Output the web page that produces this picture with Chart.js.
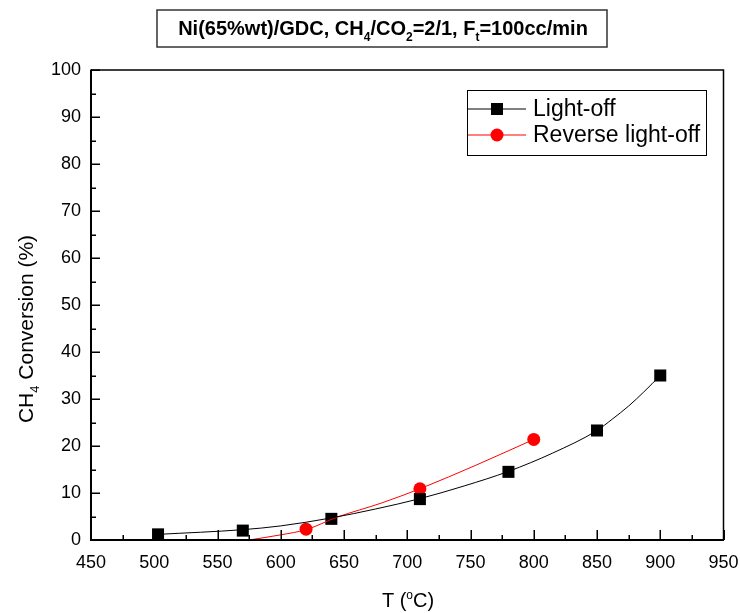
<!DOCTYPE html>
<html>
<head>
<meta charset="utf-8">
<script src="https://cdn.jsdelivr.net/npm/chart.js@4/dist/chart.umd.min.js"></script>
<style>
    body { margin: 0; background: #fff; }
    #wrap { width: 740px; height: 613px; }
</style>
</head>
<body>
<div id="wrap"><canvas id="chart" width="740" height="613"></canvas></div>
<script>
// measured points
const lightT = [503, 570, 640, 710, 780, 850, 900];
const lightX = [1.2, 2.0, 4.5, 8.7, 14.5, 23.3, 35.0];
const reverseT = [620, 710, 800];
const reverseX = [2.3, 10.9, 21.4];

// fitted curves
const lightFitT = [503, 570, 600, 640, 675, 710, 745, 780, 815, 850, 862, 875, 887, 900];
const lightFitX = [1.2, 2.2, 3.0, 4.7, 6.6, 8.8, 11.5, 14.6, 18.5, 23.3, 25.7, 28.5, 31.5, 35.0];
const reverseFitT = [575, 600, 620, 645, 680, 710, 755, 800];
const reverseFitX = [0, 1.1, 2.2, 4.9, 7.9, 10.9, 16.0, 21.4];

const xTicks = [450, 500, 550, 600, 650, 700, 750, 800, 850, 900, 950];
const yTicks = [0, 10, 20, 30, 40, 50, 60, 70, 80, 90, 100];

const toXY = (xs, ys) => xs.map((x, i) => ({x: x, y: ys[i]}));
const FONT = 'Arial, "Liberation Sans", sans-serif';

// text with sub/superscript parts: [text, mode] where mode is '', 'sub' or 'sup'
function richWidth(ctx, parts, size, bold) {
    let w = 0;
    parts.forEach(([t, m]) => {
        ctx.font = (bold ? 'bold ' : '') + (m ? Math.round(size * 0.62) : size) + 'px ' + FONT;
        w += ctx.measureText(t).width;
    });
    return w;
}
function drawRich(ctx, parts, x, y, size, bold) {
    let cx = x;
    parts.forEach(([t, m]) => {
        const s = m ? Math.round(size * 0.62) : size;
        ctx.font = (bold ? 'bold ' : '') + s + 'px ' + FONT;
        let dy = 0;
        if (m === 'sub') dy = size * 0.28;
        if (m === 'sup') dy = -size * 0.42;
        ctx.fillText(t, cx, y + dy);
        cx += ctx.measureText(t).width;
    });
}

const decor = {
    id: 'decor',
    afterDraw(chart) {
        const ctx = chart.ctx;
        const a = chart.chartArea;
        const xs = chart.scales.x, ys = chart.scales.y;
        ctx.save();
        ctx.strokeStyle = '#000';

        // frame
        ctx.lineWidth = 1.5;
        ctx.beginPath();
        ctx.moveTo(a.left, a.top); ctx.lineTo(a.right, a.top); ctx.lineTo(a.right, a.bottom);
        ctx.stroke();
        ctx.lineWidth = 2;
        ctx.beginPath();
        ctx.moveTo(a.left, a.top - 0.5); ctx.lineTo(a.left, a.bottom); ctx.lineTo(a.right + 0.5, a.bottom);
        ctx.stroke();

        // inward ticks
        ctx.lineWidth = 1.5;
        ctx.beginPath();
        for (let v = 450; v <= 950; v += 25) {
            const px = Math.round(xs.getPixelForValue(v)) + 0.25;
            const len = v % 50 === 0 ? 10 : 5;
            ctx.moveTo(px, a.bottom); ctx.lineTo(px, a.bottom - len);
        }
        for (let v = 0; v <= 100; v += 5) {
            const py = Math.round(ys.getPixelForValue(v)) + 0.25;
            const len = v % 10 === 0 ? 9 : 5;
            ctx.moveTo(a.left, py); ctx.lineTo(a.left + len, py);
        }
        ctx.stroke();

        // title box
        ctx.lineWidth = 1.5;
        ctx.strokeStyle = '#333';
        ctx.strokeRect(157, 10, 450, 37);
        ctx.fillStyle = '#000';
        ctx.textBaseline = 'alphabetic';
        ctx.textAlign = 'left';
        const title = [['Ni(65%wt)/GDC, CH', ''], ['4', 'sub'], ['/CO', ''], ['2', 'sub'], ['=2/1, F', ''], ['t', 'sub'], ['=100cc/min', '']];
        const tw = richWidth(ctx, title, 20, true);
        drawRich(ctx, title, 383 - tw / 2, 35, 20, true);

        // axis titles
        const xt = [['T (', ''], ['o', 'sup'], ['C)', '']];
        const xw = richWidth(ctx, xt, 20);
        drawRich(ctx, xt, 408 - xw / 2, 607, 20, false);

        const yt = [['CH', ''], ['4', 'sub'], [' Conversion (%)', '']];
        const yw = richWidth(ctx, yt, 21);
        ctx.save();
        ctx.translate(33, 329);
        ctx.rotate(-Math.PI / 2);
        drawRich(ctx, yt, -yw / 2, 0, 21, false);
        ctx.restore();

        // legend
        ctx.lineWidth = 1;
        ctx.strokeStyle = '#000';
        ctx.strokeRect(467.5, 90.5, 239, 65);
        const items = [
            {label: 'Light-off', color: '#000', style: 'rect', r: 8.5, y: 109},
            {label: 'Reverse light-off', color: '#ff0000', style: 'circle', r: 6.5, y: 135}
        ];
        items.forEach(it => {
            ctx.strokeStyle = it.color;
            ctx.lineWidth = 1;
            ctx.beginPath();
            ctx.moveTo(468, it.y); ctx.lineTo(526, it.y);
            ctx.stroke();
            ctx.fillStyle = it.color;
            Chart.helpers.drawPoint(ctx, {pointStyle: it.style, radius: it.r, borderWidth: 0}, 497, it.y);
            ctx.fillStyle = '#000';
            ctx.font = '23px ' + FONT;
            ctx.textBaseline = 'middle';
            ctx.fillText(it.label, 533, it.y + 1);
        });
        ctx.restore();
    }
};

new Chart(document.getElementById('chart').getContext('2d'), {
    type: 'scatter',
    data: {
        datasets: [{
            label: 'Light-off fit',
            data: toXY(lightFitT, lightFitX),
            showLine: true,
            borderColor: '#000',
            borderWidth: 1,
            pointRadius: 0,
            cubicInterpolationMode: 'monotone'
        }, {
            label: 'Reverse light-off fit',
            data: toXY(reverseFitT, reverseFitX),
            showLine: true,
            borderColor: '#ff0000',
            borderWidth: 1,
            pointRadius: 0,
            cubicInterpolationMode: 'monotone'
        }, {
            label: 'Light-off',
            data: toXY(lightT, lightX),
            pointStyle: 'rect',
            pointRadius: 8.5,
            pointBorderWidth: 0,
            backgroundColor: '#000',
            borderColor: '#000'
        }, {
            label: 'Reverse light-off',
            data: toXY(reverseT, reverseX),
            pointStyle: 'circle',
            pointRadius: 6.5,
            pointBorderWidth: 0,
            backgroundColor: '#ff0000',
            borderColor: '#ff0000'
        }]
    },
    options: {
        responsive: false,
        animation: false,
        clip: false,
        layout: {padding: {top: 70, right: 16.5, left: 0, bottom: 0}},
        plugins: {legend: {display: false}, tooltip: {enabled: false}},
        scales: {
            x: {
                type: 'linear', min: 450, max: 950,
                afterBuildTicks: s => { s.ticks = xTicks.map(v => ({value: v})); },
                afterFit: s => { s.height = 73; s.paddingLeft = 0; s.paddingRight = 0; },
                grid: {display: false, drawTicks: false},
                border: {display: false},
                ticks: {color: '#000', font: {size: 18, family: FONT}, padding: 12, maxRotation: 0}
            },
            y: {
                min: 0, max: 100,
                afterBuildTicks: s => { s.ticks = yTicks.map(v => ({value: v})); },
                afterFit: s => { s.width = 91; s.paddingTop = 0; s.paddingBottom = 0; },
                grid: {display: false, drawTicks: false},
                border: {display: false},
                ticks: {color: '#000', font: {size: 18, family: FONT}, padding: 10}
            }
        }
    },
    plugins: [decor]
});
</script>
</body>
</html>
